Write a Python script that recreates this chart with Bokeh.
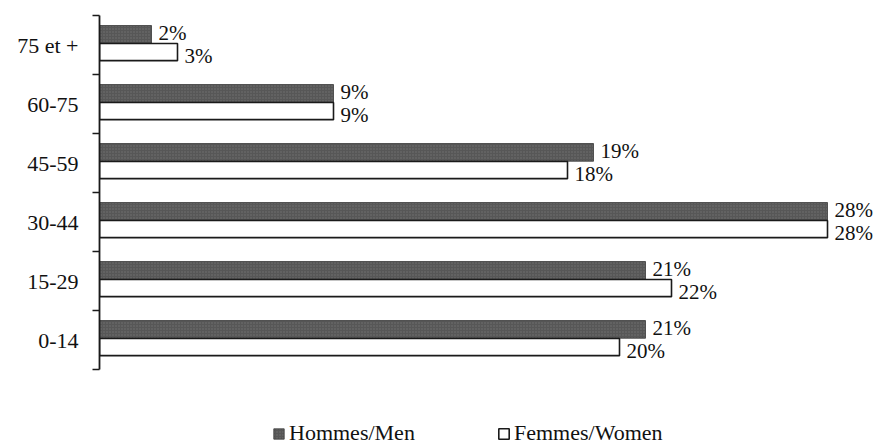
from bokeh.plotting import figure
from bokeh.models import (ColumnDataSource, Range1d, LinearAxis, FixedTicker,
                          Legend, LegendItem)
from bokeh.core.properties import value
from bokeh.embed import file_html
from bokeh.resources import INLINE

# ---- data (bottom to top) ----
categories = ["0-14", "15-29", "30-44", "45-59", "60-75", "75 et +"]
men = [21, 21, 28, 19, 9, 2]
women = [20, 22, 28, 18, 9, 3]
men_label = "Hommes/Men"
women_label = "Femmes/Women"

FONT = "Liberation Serif"
TXT = "#111111"

idx = list(range(len(categories)))
src_m = ColumnDataSource(dict(y=[i + 0.68 for i in idx], v=men,
                              lab=[f"{v}%" for v in men]))
src_w = ColumnDataSource(dict(y=[i + 0.38 for i in idx], v=women,
                              lab=[f"{v}%" for v in women]))

W, H = 883, 448
left, right, top, bottom = 99, 0, 15, 0
frame_w = W - left - right
frame_h = H - top - bottom
px_per_cat = 59.0
px_per_pct = 26.0

p = figure(width=W, height=H, output_backend="svg", toolbar_location=None,
           x_axis_location=None, y_axis_location=None,
           x_range=Range1d(0, frame_w / px_per_pct),
           y_range=Range1d(len(categories) - frame_h / px_per_cat, len(categories)),
           min_border_left=left, min_border_right=right,
           min_border_top=top, min_border_bottom=bottom)
p.outline_line_color = None
p.grid.visible = False
p.background_fill_color = "white"
p.border_fill_color = "white"

rm = p.hbar(y="y", right="v", left=0, height=0.30, source=src_m,
            fill_color="#575757", line_color="#3a3a3a", line_width=0.8,
            hatch_pattern="dot", hatch_color="#858585", hatch_alpha=0.6,
            hatch_scale=3)
rw = p.hbar(y="y", right="v", left=0, height=0.29, source=src_w,
            fill_color="white", line_color="#1a1a1a", line_width=1.6)

p.text(x="v", y="y", text="lab", source=src_m, x_offset=7, y_offset=-1,
       text_baseline="middle", text_align="left",
       text_font=value(FONT), text_font_size="21px", text_color=TXT)
p.text(x="v", y="y", text="lab", source=src_w, x_offset=7, y_offset=4,
       text_baseline="middle", text_align="left",
       text_font=value(FONT), text_font_size="21px", text_color=TXT)

# ---- category axis: labels at centres, ticks at boundaries ----
centres = [i + 0.5 for i in idx]
bounds_t = [float(i) for i in range(len(categories) + 1)]
yaxis = LinearAxis(ticker=FixedTicker(ticks=centres, minor_ticks=bounds_t),
                   bounds=(0, len(categories)),
                   major_label_overrides={c: lab for c, lab in zip(centres, categories)},
                   major_tick_out=0, major_tick_in=0,
                   minor_tick_out=7, minor_tick_in=0,
                   minor_tick_line_color="#1a1a1a", minor_tick_line_width=1.5,
                   axis_line_color="#1a1a1a", axis_line_width=1.8,
                   major_label_standoff=14,
                   major_label_text_font=FONT,
                   major_label_text_font_size="22px",
                   major_label_text_color=TXT)
p.add_layout(yaxis, "left")

# ---- legends ----
def make_legend(item_label, rend, x):
    lg = Legend(items=[LegendItem(label=item_label, renderers=[rend])],
                location=(x, 2), orientation="horizontal",
                glyph_width=13, glyph_height=13, label_height=13,
                label_standoff=4, padding=0, margin=0, spacing=0,
                border_line_color=None, background_fill_alpha=0,
                label_text_font=FONT, label_text_font_size="22px",
                label_text_color=TXT, label_text_baseline="middle")
    p.add_layout(lg, "center")

make_legend(men_label, rm, 272 - left)
make_legend(women_label, rw, 497 - left)

open("out.html", "w").write(file_html(p, INLINE))
